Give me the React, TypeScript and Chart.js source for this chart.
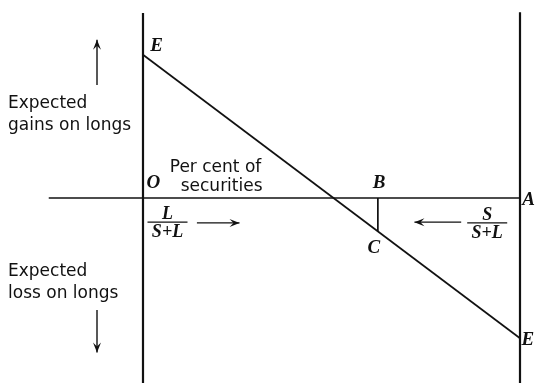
import React, { useEffect, useRef } from "react";
import { Chart, registerables } from "chart.js";

Chart.register(...registerables);

// Diagram data (x: per cent of securities, O = 0 .. A = 100; y: expected gain on longs)
const xRange = [-37.93, 105.04];
const yRange = [-49.07, 52.52];
const horizontalAxisX = [-25, 100];
const leftAxisY = [49.1, -49.1];
const rightAxisY = [49.3, -49.1];
const lineEX = [0, 100];
const lineEY = [38, -37.2];
const pointBX = 62.3;

const serifLabels = [
  { t: "E", x: 1.9, y: 40.2, a: "left" },
  { t: "E", x: 100.4, y: -37.8, a: "left" },
  { t: "O", x: 0.9, y: 4.0, a: "left" },
  { t: "B", x: 62.6, y: 4.0, a: "center" },
  { t: "A", x: 100.6, y: -0.6, a: "left" },
  { t: "C", x: 61.2, y: -13.2, a: "center" },
];
const sansLabels = [
  { t: "Per cent of", x: 7.1, y: 8.0 },
  { t: "securities", x: 10.0, y: 2.9 },
  { t: "Expected", x: -35.8, y: 25.1 },
  { t: "gains on longs", x: -35.8, y: 19.1 },
  { t: "Expected", x: -35.8, y: -19.5 },
  { t: "loss on longs", x: -35.8, y: -25.4 },
];
const fractions = [
  { num: "L", den: "S+L", x: 6.5, y: -6.4 },
  { num: "S", den: "S+L", x: 91.3, y: -6.6 },
];
const arrows = [
  { x1: -12.2, y1: 30.0, x2: -12.2, y2: 42.0 },
  { x1: -12.2, y1: -29.7, x2: -12.2, y2: -41.0 },
  { x1: 14.3, y1: -6.6, x2: 25.6, y2: -6.6 },
  { x1: 84.4, y1: -6.4, x2: 72.0, y2: -6.4 },
];

const annotate = {
  id: "annotate",
  afterDatasetsDraw(chart: any) {
    const ctx = chart.ctx;
    const xs = chart.scales.x;
    const ys = chart.scales.y;
    const px = (v: number) => xs.getPixelForValue(v);
    const py = (v: number) => ys.getPixelForValue(v);
    ctx.save();
    ctx.fillStyle = "#111";
    ctx.strokeStyle = "#111";
    ctx.textBaseline = "middle";
    ctx.font = "bold italic 19px 'Liberation Serif'";
    for (const l of serifLabels) {
      ctx.textAlign = l.a;
      ctx.fillText(l.t, px(l.x), py(l.y));
    }
    ctx.font = "17px 'DejaVu Sans'";
    ctx.textAlign = "left";
    for (const l of sansLabels) {
      ctx.fillText(l.t, px(l.x), py(l.y));
    }
    for (const f of fractions) {
      const cx = px(f.x);
      const cy = py(f.y);
      ctx.textAlign = "center";
      ctx.font = "bold italic 18px 'Liberation Serif'";
      ctx.textBaseline = "alphabetic";
      ctx.fillText(f.num, cx, cy - 3);
      ctx.textBaseline = "top";
      ctx.fillText(f.den, cx, cy + 1);
      ctx.lineWidth = 1.4;
      ctx.beginPath();
      ctx.moveTo(cx - 20, cy);
      ctx.lineTo(cx + 20, cy);
      ctx.stroke();
    }
    ctx.lineWidth = 1.4;
    for (const a of arrows) {
      const x1 = px(a.x1), y1 = py(a.y1), x2 = px(a.x2), y2 = py(a.y2);
      ctx.beginPath();
      ctx.moveTo(x1, y1);
      ctx.lineTo(x2, y2);
      ctx.stroke();
      const ang = Math.atan2(y2 - y1, x2 - x1);
      const len = 10, w = 4;
      ctx.beginPath();
      ctx.moveTo(x2, y2);
      ctx.lineTo(x2 - len * Math.cos(ang) + w * Math.sin(ang), y2 - len * Math.sin(ang) - w * Math.cos(ang));
      ctx.lineTo(x2 - len * 0.6 * Math.cos(ang), y2 - len * 0.6 * Math.sin(ang));
      ctx.lineTo(x2 - len * Math.cos(ang) - w * Math.sin(ang), y2 - len * Math.sin(ang) + w * Math.cos(ang));
      ctx.closePath();
      ctx.fill();
    }
    ctx.restore();
  },
};

export default function App() {
  const ref = useRef<HTMLCanvasElement | null>(null);
  useEffect(() => {
    if (!ref.current) return;
    const line = (pts: { x: number; y: number }[], w: number) => ({
      data: pts,
      showLine: true,
      borderColor: "#111",
      borderWidth: w,
      pointRadius: 0,
      fill: false,
      tension: 0,
    });
    const chart = new Chart(ref.current, {
      type: "scatter",
      data: {
        datasets: [
          line(horizontalAxisX.map((x) => ({ x, y: 0 })), 1.6),
          line(leftAxisY.map((y) => ({ x: 0, y })), 2.2),
          line(rightAxisY.map((y) => ({ x: 100, y })), 2.2),
          line(lineEX.map((x, i) => ({ x, y: lineEY[i] })), 1.7),
          line(
            [
              { x: pointBX, y: 0 },
              { x: pointBX, y: lineEY[0] + ((lineEY[1] - lineEY[0]) * pointBX) / 100 },
            ],
            1.7
          ),
        ],
      },
      options: {
        animation: false,
        responsive: false,
        maintainAspectRatio: false,
        layout: { padding: 0 },
        plugins: { legend: { display: false }, tooltip: { enabled: false } },
        scales: {
          x: { type: "linear", display: false, min: xRange[0], max: xRange[1] },
          y: { type: "linear", display: false, min: yRange[0], max: yRange[1] },
        },
      },
      plugins: [annotate],
    });
    return () => chart.destroy();
  }, []);
  return (
    <div style={{ position: "fixed", left: 0, top: 0, width: 539, height: 383, background: "#fff" }}>
      <canvas ref={ref} width={539} height={383} style={{ width: 539, height: 383 }} />
    </div>
  );
}
